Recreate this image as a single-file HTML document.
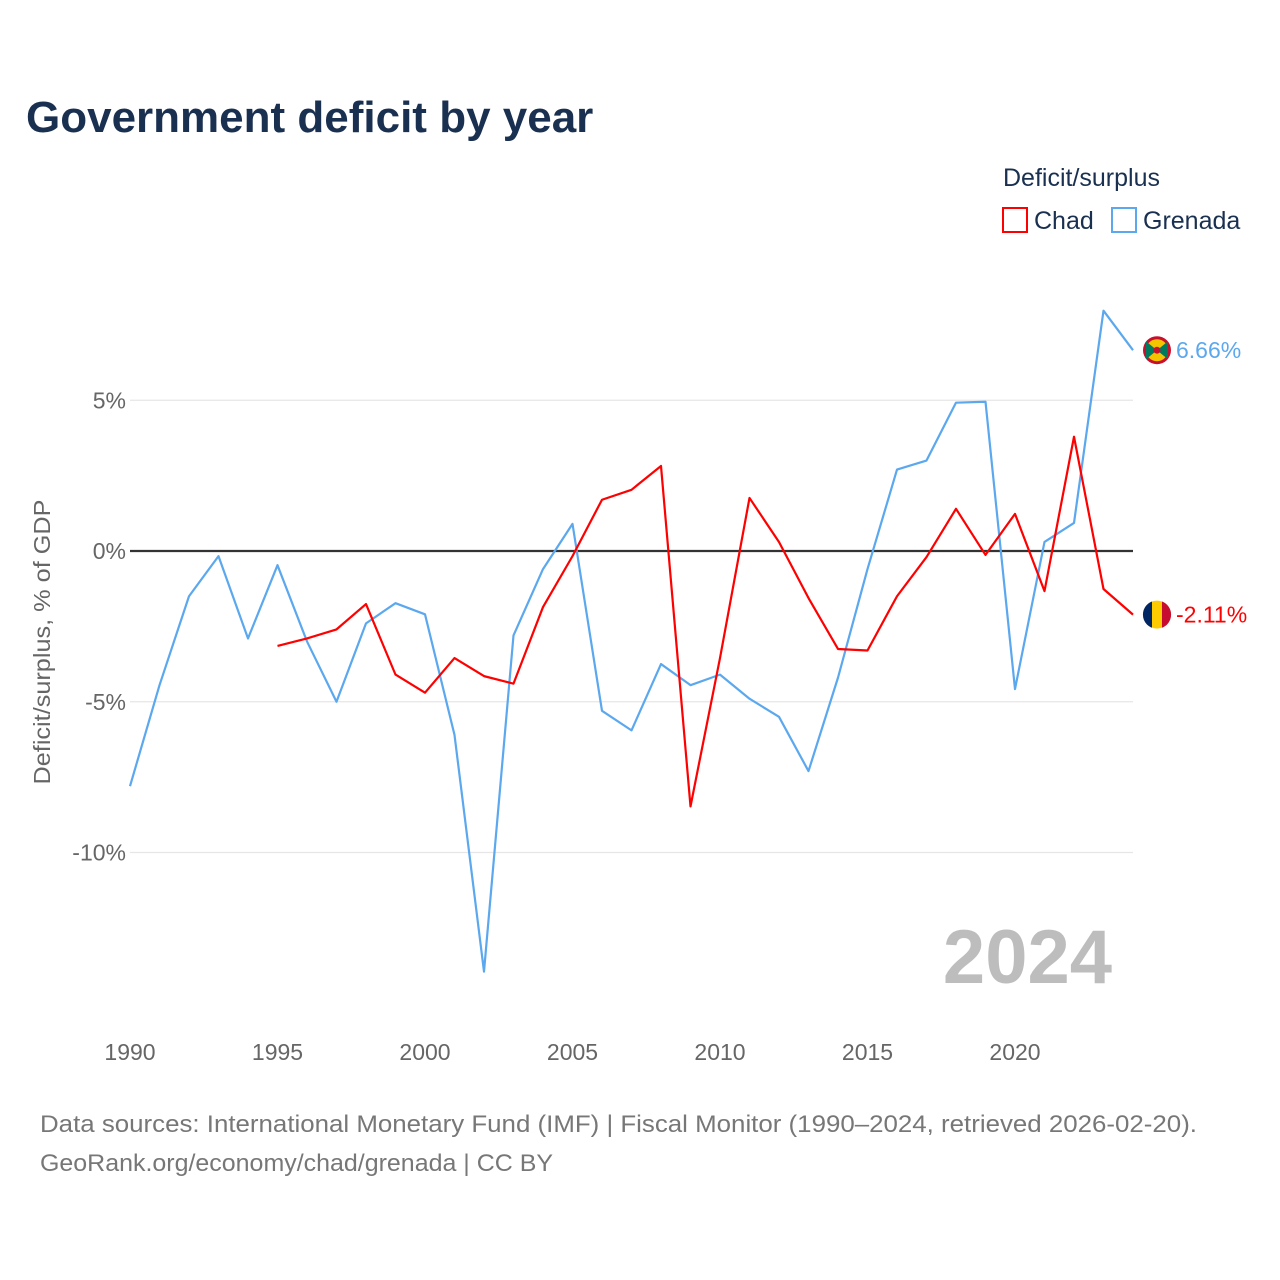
<!DOCTYPE html>
<html><head><meta charset="utf-8">
<style>
html,body{margin:0;padding:0;background:#fff;}
body{width:1280px;height:1280px;position:relative;font-family:"Liberation Sans",sans-serif;overflow:hidden;}
</style></head>
<body>
<svg id="chart" width="1280" height="1280" xmlns="http://www.w3.org/2000/svg" style="position:absolute;left:0;top:0">
  <text x="26" y="132" font-size="44" font-weight="bold" fill="#1a3050">Government deficit by year</text>
  <text x="1003" y="186" font-size="25" fill="#1a3050">Deficit/surplus</text>
  <g>
    <rect x="1003" y="208" width="24" height="24" fill="none" stroke="#ff0000" stroke-width="2"/>
    <text x="1034" y="229" font-size="25" fill="#1a3050">Chad</text>
  </g>
  <g>
    <rect x="1112" y="208" width="24" height="24" fill="none" stroke="#5ba8ee" stroke-width="2"/>
    <text x="1143" y="229" font-size="25" fill="#1a3050">Grenada</text>
  </g>
  <g id="grid"></g>
  <g id="yticks"></g>
  <g id="xticks"></g>
  <text transform="translate(50,642) rotate(-90)" text-anchor="middle" font-size="23" fill="#666" textLength="285" lengthAdjust="spacingAndGlyphs">Deficit/surplus, % of GDP</text>
  <text x="1112" y="983" text-anchor="end" font-size="76" font-weight="bold" fill="#bdbdbd">2024</text>
  <g id="series"></g>
  <text x="40" y="1132" font-size="24" fill="#777" textLength="1157" lengthAdjust="spacingAndGlyphs">Data sources: International Monetary Fund (IMF) | Fiscal Monitor (1990–2024, retrieved 2026-02-20).</text>
  <text x="40" y="1171" font-size="24" fill="#777" textLength="513" lengthAdjust="spacingAndGlyphs">GeoRank.org/economy/chad/grenada | CC BY</text>
</svg>
<script>
const grenadaYears = [1990,1991,1992,1993,1994,1995,1996,1997,1998,1999,2000,2001,2002,2003,2004,2005,2006,2007,2008,2009,2010,2011,2012,2013,2014,2015,2016,2017,2018,2019,2020,2021,2022,2023,2024];
const grenadaValues = [-7.8,-4.45,-1.5,-0.17,-2.9,-0.47,-3.0,-5.0,-2.4,-1.73,-2.1,-6.1,-13.95,-2.8,-0.6,0.9,-5.3,-5.95,-3.75,-4.45,-4.1,-4.9,-5.5,-7.3,-4.2,-0.6,2.7,3.0,4.92,4.95,-4.58,0.3,0.93,7.97,6.66];
const chadYears = [1995,1996,1997,1998,1999,2000,2001,2002,2003,2004,2005,2006,2007,2008,2009,2010,2011,2012,2013,2014,2015,2016,2017,2018,2019,2020,2021,2022,2023,2024];
const chadValues = [-3.15,-2.9,-2.6,-1.76,-4.1,-4.7,-3.55,-4.15,-4.4,-1.86,-0.17,1.7,2.03,2.82,-8.47,-3.55,1.76,0.3,-1.56,-3.25,-3.3,-1.5,-0.2,1.4,-0.13,1.23,-1.33,3.79,-1.26,-2.11];
const yTickValues = [5,0,-5,-10];
const yTickLabels = ["5%","0%","-5%","-10%"];
const xTickValues = [1990,1995,2000,2005,2010,2015,2020];

const NS="http://www.w3.org/2000/svg";
function xs(y){return 130+(y-1990)*29.5;}
function ys(v){return 551-v*30.15;}
function mk(tag,attrs,parent){const e=document.createElementNS(NS,tag);for(const k in attrs)e.setAttribute(k,attrs[k]);parent.appendChild(e);return e;}

const grid=document.getElementById('grid'), yt=document.getElementById('yticks'), xt=document.getElementById('xticks'), ser=document.getElementById('series');
yTickValues.forEach((v,i)=>{
  const l=mk('line',{x1:130,x2:1133,y1:ys(v),y2:ys(v),stroke:v===0?'#333':'#e6e6e6','stroke-width':v===0?2.2:1.2},grid);
  
  
  const t=mk('text',{x:126,y:ys(v)+8,'text-anchor':'end','font-size':23,fill:'#666'},yt);
  t.textContent=yTickLabels[i];
  
  
});
xTickValues.forEach(v=>{
  const t=mk('text',{x:xs(v),y:1060,'text-anchor':'middle','font-size':23,fill:'#666'},xt);
  t.textContent=v;
  
  
});
function line(years,vals,color,name){
  const p=mk('polyline',{points:years.map((y,i)=>xs(y)+','+ys(vals[i])).join(' '),fill:'none',stroke:color,'stroke-width':2.2,'stroke-linejoin':'round'},ser);
  
  
}
line(grenadaYears,grenadaValues,'#5ba8ee','grenada-line');
line(chadYears,chadValues,'#ff0000','chad-line');

const gx=xs(2024)+24, gy=ys(grenadaValues[grenadaValues.length-1]);
const gflag=mk('g',{},ser);


mk('circle',{cx:gx,cy:gy,r:14,fill:'#c8102e'},gflag);
mk('circle',{cx:gx,cy:gy,r:11,fill:'#f5c400'},gflag);
mk('polygon',{points:`${gx-11},${gy-9} ${gx},${gy} ${gx-11},${gy+9}`,fill:'#007a5e'},gflag);
mk('polygon',{points:`${gx+11},${gy-9} ${gx},${gy} ${gx+11},${gy+9}`,fill:'#007a5e'},gflag);
mk('circle',{cx:gx,cy:gy,r:3.5,fill:'#c8102e'},gflag);
const gl=mk('text',{x:gx+19,y:gy+8,'font-size':23,fill:'#5ba8ee'},ser);
gl.textContent='6.66%';



const cx=xs(2024)+24, cy=ys(chadValues[chadValues.length-1]);
const cflag=mk('g',{},ser);


mk('circle',{cx:cx,cy:cy,r:14,fill:'#fecb00'},cflag);
mk('path',{d:`M${cx-5},${cy-13.1} A14,14 0 0 0 ${cx-5},${cy+13.1} Z`,fill:'#002664'},cflag);
mk('path',{d:`M${cx+5},${cy-13.1} A14,14 0 0 1 ${cx+5},${cy+13.1} Z`,fill:'#c60c30'},cflag);
const cl=mk('text',{x:cx+19,y:cy+8,'font-size':23,fill:'#ff0000'},ser);
cl.textContent='-2.11%';


</script>
</body></html>
